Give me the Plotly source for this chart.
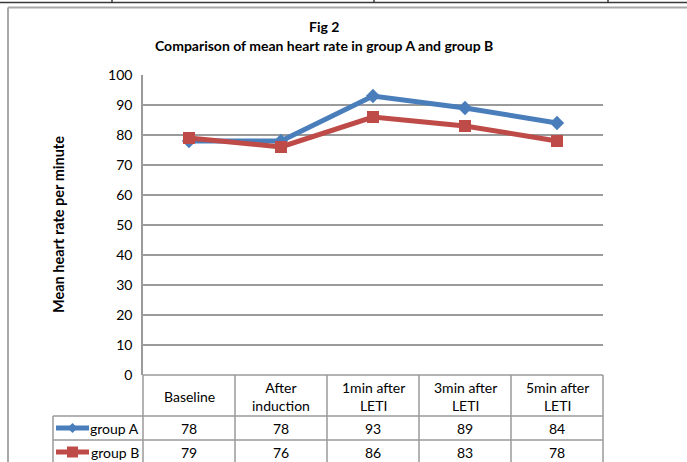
import plotly.graph_objects as go

# ---- data ----
categories = ["Baseline", "After<br>induction", "1min after<br>LETI", "3min after<br>LETI", "5min after<br>LETI"]
group_a = [78, 78, 93, 89, 84]
group_b = [79, 76, 86, 83, 78]
series_names = ["group A", "group B"]
y_ticks = [0, 10, 20, 30, 40, 50, 60, 70, 80, 90, 100]

W, H = 687, 462
BLUE = "#4A7EBB"
RED = "#BE4B48"
GRID = "#9A9A9A"
FONT = "Lato"
FS = 14

PL, PR, PT, PB = 143, 603, 75, 375


def px(x):
    return x / W


def py(y):
    return 1 - y / H


def dx(x):
    return (x - PL) / (PR - PL)


xs = list(range(len(categories)))

fig = go.Figure()
fig.add_trace(go.Scatter(x=xs, y=group_a, name=series_names[0], mode="lines+markers",
                         line=dict(color=BLUE, width=5),
                         marker=dict(symbol="diamond", size=11, color=BLUE),
                         cliponaxis=False))
fig.add_trace(go.Scatter(x=xs, y=group_b, name=series_names[1], mode="lines+markers",
                         line=dict(color=RED, width=5),
                         marker=dict(symbol="square", size=12, color=RED),
                         cliponaxis=False))

shapes = []
ann = []

# document strip at top
shapes.append(dict(type="line", xref="paper", yref="paper", x0=0, x1=1, y0=py(2.5), y1=py(2.5),
                   line=dict(color="#3a3a3a", width=1.5)))
for tx in [112, 374, 608]:
    shapes.append(dict(type="line", xref="paper", yref="paper", x0=px(tx), x1=px(tx), y0=py(0), y1=py(3),
                       line=dict(color="#3a3a3a", width=1.5)))
# chart border
shapes.append(dict(type="line", xref="paper", yref="paper", x0=px(8), x1=1, y0=py(7.5), y1=py(7.5),
                   line=dict(color="#A8A8A8", width=2)))
shapes.append(dict(type="line", xref="paper", yref="paper", x0=px(8), x1=px(8), y0=py(7.5), y1=0,
                   line=dict(color="#A8A8A8", width=2)))

# data table grid
T_HEAD = 416
T_A = 440
T_B = 464
n = len(categories)
for i in range(n + 1):
    shapes.append(dict(type="line", xref="x domain", yref="paper", x0=i / n, x1=i / n,
                       y0=py(PB), y1=py(H + 5), line=dict(color=GRID, width=1.5)))
shapes.append(dict(type="line", xref="x domain", yref="paper", x0=0, x1=1, y0=py(PB), y1=py(PB),
                   line=dict(color=GRID, width=1.5)))
for yy in [T_HEAD, T_A, T_B]:
    shapes.append(dict(type="line", xref="x domain", yref="paper", x0=dx(53), x1=1, y0=py(yy), y1=py(yy),
                       line=dict(color=GRID, width=1.5)))
shapes.append(dict(type="line", xref="x domain", yref="paper", x0=dx(53), x1=dx(53), y0=py(T_HEAD), y1=py(H + 5),
                   line=dict(color=GRID, width=1.5)))

# header texts
for i, c in enumerate(categories):
    ann.append(dict(x=xs[i], y=py((PB + T_HEAD) / 2 + 1), xref="x", yref="paper", text=c,
                    showarrow=False, xanchor="center", yanchor="middle",
                    font=dict(family=FONT, size=FS, color="#000")))

# value rows with legend keys
rows = [(group_a, BLUE, "diamond", (T_HEAD + T_A) / 2), (group_b, RED, "square", (T_A + T_B) / 2)]
for (vals, col, sym, yc), name in zip(rows, series_names):
    for i, v in enumerate(vals):
        ann.append(dict(x=xs[i], y=py(yc), xref="x", yref="paper", text=str(v), showarrow=False,
                        xanchor="center", yanchor="middle", font=dict(family=FONT, size=FS, color="#000")))
    ann.append(dict(x=dx(141), y=py(yc), xref="x domain", yref="paper", text=name, showarrow=False,
                    xanchor="right", yanchor="middle", font=dict(family=FONT, size=FS, color="#000")))
    shapes.append(dict(type="line", xref="paper", yref="paper", x0=px(56), x1=px(89), y0=py(yc), y1=py(yc),
                       line=dict(color=col, width=5)))
    cx, cy = 72.5, yc
    if sym == "diamond":
        r = 5
        path = f"M {px(cx - r)} {py(cy)} L {px(cx)} {py(cy - r)} L {px(cx + r)} {py(cy)} L {px(cx)} {py(cy + r)} Z"
    else:
        r = 5.5
        path = (f"M {px(cx - r)} {py(cy - r)} L {px(cx + r)} {py(cy - r)} L {px(cx + r)} {py(cy + r)} "
                f"L {px(cx - r)} {py(cy + r)} Z")
    shapes.append(dict(type="path", xref="paper", yref="paper", path=path, fillcolor=col,
                       line=dict(color=col, width=0)))

# titles
ann.append(dict(x=px(324), y=py(27), xref="paper", yref="paper", text="<b>Fig 2</b>", showarrow=False,
                xanchor="center", yanchor="middle", font=dict(family=FONT, size=FS, color="#000")))
ann.append(dict(x=px(324), y=py(46), xref="paper", yref="paper",
                text="<b>Comparison of mean heart rate in group A and group B</b>", showarrow=False,
                xanchor="center", yanchor="middle", font=dict(family=FONT, size=FS, color="#000")))
ann.append(dict(x=px(58), y=py(225), xref="paper", yref="paper", text="<b>Mean heart rate per minute</b>",
                textangle=-90, showarrow=False, xanchor="center", yanchor="middle",
                font=dict(family=FONT, size=FS + 0.5, color="#000")))

fig.update_layout(
    width=W, height=H,
    margin=dict(l=0, r=0, t=0, b=0, autoexpand=False),
    paper_bgcolor="white", plot_bgcolor="white",
    showlegend=False,
    shapes=shapes, annotations=ann,
    xaxis=dict(domain=[px(PL), px(PR)], range=[-0.5, n - 0.5], showgrid=False, zeroline=False,
               showticklabels=False, showline=False, fixedrange=True, automargin=False),
    yaxis=dict(domain=[py(PB), py(PT)], range=[0, 100], tickvals=y_ticks, showgrid=True,
               gridcolor=GRID, gridwidth=1.5, zeroline=False, showline=True, linecolor=GRID, linewidth=1.5,
               ticks="", ticklabelstandoff=6, fixedrange=True, automargin=False,
               tickfont=dict(family=FONT, size=FS, color="#000")),
)

fig.write_html("out.html", config={"displayModeBar": False},
               post_script="document.body.style.margin='0px';document.body.style.overflow='hidden';")
